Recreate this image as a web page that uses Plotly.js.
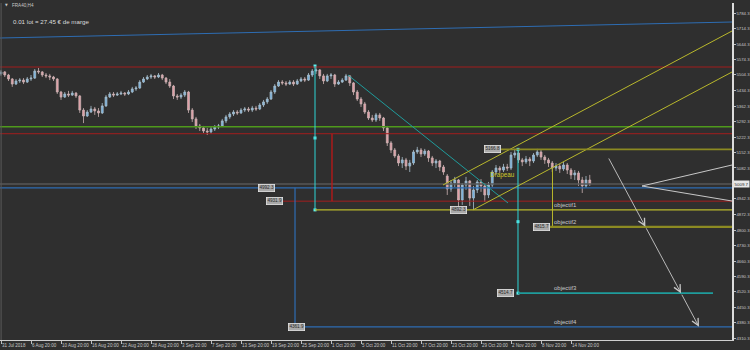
<!DOCTYPE html>
<html>
<head>
<meta charset="utf-8">
<script src="https://cdn.plot.ly/plotly-3.0.1.min.js"></script>
<style>html,body{margin:0;padding:0;background:#2f2f2f;}#chart{width:750px;height:350px;}</style>
</head>
<body>
<div id="chart"></div>
<script>
// ---- Candles (FRA40, H4) ----
const barOpen = [5509,5518,5504,5486,5463,5477,5481,5472,5486,5490,
5522,5518,5504,5500,5495,5486,5427,5404,5418,5413,
5422,5409,5345,5318,5336,5350,5341,5332,5364,5404,
5418,5413,5418,5422,5418,5427,5441,5445,5472,5486,
5495,5500,5495,5504,5490,5472,5454,5409,5404,5413,
5427,5345,5305,5273,5264,5250,5246,5259,5268,5273,
5296,5314,5327,5336,5332,5345,5350,5345,5354,5350,
5368,5382,5395,5427,5454,5472,5468,5463,5472,5463,
5477,5486,5481,5504,5522,5527,5500,5477,5500,5504,
5463,5472,5481,5500,5468,5427,5395,5373,5336,5309,
5300,5323,5309,5264,5196,5164,5137,5105,5119,5091,
5105,5155,5164,5146,5159,5128,5105,5114,5087,5046,
4987,5014,5028,4937,5005,5023,4946,4983,5019,5001,
4960,5005,5064,5082,5073,5087,5082,5141,5150,5119,
5110,5123,5114,5141,5155,5132,5119,5105,5082,5091,
5078,5096,5073,5051,5060,5028,5001,5028];
const barHigh = [5527,5522,5509,5490,5486,5490,5490,5495,5504,5531,
5536,5522,5513,5509,5500,5490,5432,5427,5432,5432,
5427,5413,5354,5345,5364,5359,5354,5377,5413,5427,
5427,5427,5432,5427,5436,5450,5454,5481,5495,5504,
5509,5504,5513,5509,5495,5486,5459,5418,5422,5436,
5432,5354,5314,5282,5273,5264,5268,5277,5282,5305,
5323,5336,5345,5345,5354,5359,5359,5364,5364,5377,
5391,5404,5436,5463,5481,5481,5477,5481,5481,5486,
5495,5495,5513,5531,5545,5531,5509,5509,5513,5509,
5481,5490,5509,5504,5472,5436,5404,5382,5345,5323,
5332,5332,5314,5273,5205,5173,5146,5132,5128,5119,
5164,5178,5173,5169,5164,5137,5123,5119,5096,5055,
5028,5042,5032,5014,5042,5028,5001,5028,5032,5014,
5019,5073,5096,5091,5101,5101,5155,5169,5159,5128,
5137,5132,5150,5169,5164,5141,5128,5114,5105,5101,
5110,5105,5082,5073,5069,5042,5046,5051];
const barLow = [5500,5495,5477,5450,5459,5468,5463,5468,5477,5486,
5509,5495,5490,5481,5477,5418,5391,5400,5404,5409,
5400,5332,5286,5314,5332,5323,5314,5327,5359,5400,
5404,5409,5413,5409,5413,5422,5432,5441,5468,5481,
5486,5486,5490,5481,5463,5445,5395,5391,5395,5404,
5332,5291,5259,5250,5241,5232,5237,5250,5259,5268,
5286,5305,5318,5323,5327,5336,5336,5336,5341,5345,
5359,5373,5391,5418,5450,5459,5454,5459,5454,5459,
5472,5472,5477,5495,5509,5486,5463,5472,5486,5450,
5459,5468,5477,5454,5413,5386,5359,5327,5300,5291,
5291,5296,5250,5182,5150,5128,5091,5082,5073,5064,
5096,5146,5132,5137,5110,5091,5082,5069,5051,4960,
4974,4996,4901,4915,4983,4910,4892,4969,4974,4928,
4946,4996,5051,5060,5064,5069,5073,5128,5105,5091,
5101,5091,5105,5132,5119,5101,5087,5064,5069,5060,
5069,5055,5032,5028,5001,4969,4992,5001];
const barClose = [5518,5504,5486,5463,5477,5481,5472,5486,5490,5522,
5518,5504,5500,5495,5486,5427,5404,5418,5413,5422,
5409,5345,5318,5336,5350,5341,5332,5364,5404,5418,
5413,5418,5422,5418,5427,5441,5445,5472,5486,5495,
5500,5495,5504,5490,5472,5454,5409,5404,5413,5427,
5345,5305,5273,5264,5250,5246,5259,5268,5273,5296,
5314,5327,5336,5332,5345,5350,5345,5354,5350,5368,
5382,5395,5427,5454,5472,5468,5463,5472,5463,5477,
5486,5481,5504,5522,5527,5500,5477,5500,5504,5463,
5472,5481,5500,5468,5427,5395,5373,5336,5309,5300,
5323,5309,5264,5196,5164,5137,5105,5119,5091,5105,
5155,5164,5146,5159,5128,5105,5114,5087,5064,4987,
5014,5028,4937,5005,5023,4946,4983,5019,5001,4960,
5005,5064,5082,5073,5087,5082,5141,5150,5119,5110,
5123,5114,5141,5155,5132,5119,5105,5082,5091,5078,
5096,5073,5051,5060,5028,5001,5028,5009.7];

// ---- Axes ----
const xTickBars = [0,8,16,24,32,40,48,56,64,72,80,88,96,104,112,120,128,136,144,152];
const xTickLabels = ["31 Jul 2018","6 Aug 20:00","10 Aug 20:00","16 Aug 20:00","22 Aug 20:00","28 Aug 20:00",
  "3 Sep 20:00","7 Sep 20:00","13 Sep 20:00","19 Sep 20:00","25 Sep 20:00","1 Oct 20:00","5 Oct 20:00",
  "11 Oct 20:00","17 Oct 20:00","23 Oct 20:00","29 Oct 20:00","2 Nov 20:00","8 Nov 20:00","14 Nov 20:00"];
const yTickValues = [5784.3,5714.3,5644.3,5574.3,5504.3,5434.3,5362.3,5292.3,5222.3,5152.3,5082.3,
  4942.3,4872.3,4800.3,4730.3,4660.3,4590.3,4520.3,4450.3,4380.3,4310.3];
const lastPrice = 5009.7;

// ---- Drawn objects (bar index, price) ----
const lineStartBar   = [-0.27, -0.27, -0.27, -0.27, -0.27, -0.27, 75.2, 88.26, 83.73, 83.73, 78.4, 81.06, 92.53, 117.86, 125.86, 133.33, 147.06, 146.4, 137.86, 137.86, 170.93, 170.93];
const lineStartPrice = [5671.8, 5540.3, 5269.6, 5237.8, 5009.7, 4992.3, 4931.9, 5237.8, 5544.8, 4892.3, 4992.3, 4361.9, 5504.0, 5005.2, 4892.3, 5166.8, 5080.0, 4815.7, 5166.8, 4514.7, 5000.6, 5000.6];
const lineEndBar     = [194.93, 194.93, 194.93, 194.93, 194.93, 194.93, 194.93, 88.26, 83.73, 194.93, 78.4, 194.93, 135.2, 194.93, 194.93, 194.93, 147.06, 194.93, 137.86, 189.86, 194.93, 194.93];
const lineEndPrice   = [5744.4, 5540.3, 5269.6, 5237.8, 5009.7, 4992.3, 4931.9, 4931.9, 4892.3, 4892.3, 4361.9, 4361.9, 4923.6, 5703.6, 5517.6, 5166.8, 4815.7, 4815.7, 4514.7, 4514.7, 5095.9, 4932.6];

const anchorBar   = [83.73, 83.73, 83.73, 137.86, 137.86, 137.86];
const anchorPrice = [5544.8, 5218.4, 4892.3, 5166.8, 4838.8, 4514.7];

const arrowBar   = [161.86, 171.84, 181.33, 186.13];
const arrowPrice = [5132.2, 4815.7, 4514.7, 4361.9];

const priceLabelBar   = [70.8, 72.8, 122.0, 131.1, 144.1, 134.4, 78.8];
const priceLabelPrice = [4992.3, 4931.9, 4892.3, 5166.8, 4815.7, 4514.7, 4361.9];

const objectiveNames  = ["objectif1","objectif2","objectif3","objectif4"];
const objectiveBar    = [146.9, 146.9, 146.9, 146.9];
const objectivePrice  = [4892.3, 4815.7, 4514.7, 4361.9];

const flagText = "Drapeau", flagBar = 129.9, flagPrice = 5050.6;

// ---- Styles ----
const BLUE = '#2e6db3', RED = '#a21d1d', RED2 = '#c01616', GREEN = '#4f9a1c', YEL = '#b9b82c', OLIVE = '#8c8a22',
      CYAN = '#2fd6d6', TEAL = '#1f9c9c', WHITE = '#c8c8c8', BIDGRAY = '#575757';
const lineStyles = [
  [BLUE,1],[RED,1],[GREEN,1.6],[RED,1],[BIDGRAY,1.6],[BLUE,1.2],[RED,1],[RED2,1.3],[CYAN,1],[YEL,1.2],
  [BLUE,1.2],[BLUE,1.2],[TEAL,1],[YEL,1],[YEL,1],[OLIVE,1.6],[YEL,1],[OLIVE,2.2],[CYAN,1],[TEAL,1.6],
  [WHITE,1],[WHITE,1]];
const FONT = 'Liberation Sans, Arial, sans-serif';
const TXT = '#c8c8c8';

const barIdx = barOpen.map((_, i) => i);

const traces = [
  {
    type: 'candlestick', x: barIdx, open: barOpen, high: barHigh, low: barLow, close: barClose,
    increasing: {line: {color: '#aabfcd', width: 0.8}, fillcolor: '#6fb0e2'},
    decreasing: {line: {color: '#ccb2b4', width: 0.8}, fillcolor: '#e59ca5'},
    hoverinfo: 'skip', showlegend: false
  },
  {
    type: 'scatter', mode: 'markers', x: anchorBar, y: anchorPrice,
    marker: {symbol: 'square', size: 3, color: '#5ff0f0'}, hoverinfo: 'skip', showlegend: false
  }
];

const shapes = lineStartBar.map((x0, i) => ({
  type: 'line', xref: 'x', yref: 'y', x0: x0, y0: lineStartPrice[i], x1: lineEndBar[i], y1: lineEndPrice[i],
  line: {color: lineStyles[i][0], width: lineStyles[i][1]}, layer: 'above'
}));

const annotations = [];
// arrow path with heads at each objective
for (let k = 1; k < arrowBar.length; k++) {
  annotations.push({
    x: arrowBar[k], y: arrowPrice[k], ax: arrowBar[k-1], ay: arrowPrice[k-1],
    xref: 'x', yref: 'y', axref: 'x', ayref: 'y', text: '', showarrow: true,
    arrowhead: 5, arrowsize: 1.5, arrowwidth: 0.9, arrowcolor: WHITE, standoff: 0, startstandoff: 0
  });
}
// price labels
priceLabelBar.forEach((b, i) => annotations.push({
  x: b, y: priceLabelPrice[i], xref: 'x', yref: 'y', text: priceLabelPrice[i].toFixed(1), showarrow: false,
  font: {family: FONT, size: 4.6, color: '#2a2a2a'}, bgcolor: '#a9a9a9', bordercolor: '#e6e6e6',
  borderwidth: 0.8, borderpad: 0.6, xanchor: 'center', yanchor: 'middle'
}));
// objective texts
objectiveNames.forEach((t, i) => annotations.push({
  x: objectiveBar[i], y: objectivePrice[i], xref: 'x', yref: 'y', text: t, showarrow: false,
  font: {family: FONT, size: 6, color: TXT}, xanchor: 'left', yanchor: 'bottom', yshift: 0
}));
// flag label
annotations.push({
  x: flagBar, y: flagPrice, xref: 'x', yref: 'y', text: flagText, showarrow: false,
  font: {family: FONT, size: 6.3, color: '#cfcd2a'}, xanchor: 'left', yanchor: 'middle'
});
// last price label on axis
annotations.push({
  x: 1, y: lastPrice, xref: 'paper', yref: 'y', text: lastPrice.toFixed(1), showarrow: false,
  font: {family: FONT, size: 4.4, color: '#2a2a2a'}, bgcolor: '#e8e8e8', borderpad: 0.6,
  xanchor: 'left', yanchor: 'middle', xshift: 1
});
// header texts
annotations.push({
  x: 0.004, y: 0.994, xref: 'paper', yref: 'paper', text: '▼', showarrow: false,
  font: {family: 'DejaVu Sans', size: 3.5, color: TXT}, xanchor: 'left', yanchor: 'middle'
});
annotations.push({
  x: 0.013, y: 0.994, xref: 'paper', yref: 'paper', text: 'FRA40,H4', showarrow: false,
  font: {family: FONT, size: 4.6, color: TXT}, xanchor: 'left', yanchor: 'middle'
});
annotations.push({
  x: 0.015, y: 0.944, xref: 'paper', yref: 'paper', text: '0.01 lot = 27.45 € de marge', showarrow: false,
  font: {family: FONT, size: 6.2, color: '#dcdcdc'}, xanchor: 'left', yanchor: 'middle'
});

const layout = {
  width: 750, height: 350,
  margin: {l: 0, r: 18, t: 3, b: 10, pad: 0},
  paper_bgcolor: '#2f2f2f', plot_bgcolor: '#2f2f2f',
  showlegend: false, hovermode: false, dragmode: false,
  font: {family: FONT, color: TXT},
  xaxis: {
    range: [-0.27, 194.93], rangeslider: {visible: false}, showgrid: false, zeroline: false,
    tickmode: 'array', tickvals: xTickBars, ticktext: xTickLabels, ticklabelposition: 'outside right',
    tickangle: 0, automargin: false,
    ticks: 'outside', ticklen: 3, tickwidth: 1, tickcolor: '#bdbdbd',
    tickfont: {family: FONT, size: 4.5, color: TXT},
    showline: true, linecolor: '#cfcfcf', linewidth: 1.2, fixedrange: true
  },
  yaxis: {
    range: [4302.2, 5830.6], side: 'right', showgrid: false, zeroline: false, automargin: false,
    tickmode: 'array', tickvals: yTickValues, ticktext: yTickValues.map(v => v.toFixed(1)),
    ticks: 'outside', ticklen: 2, tickwidth: 1, tickcolor: '#bdbdbd',
    tickfont: {family: FONT, size: 4.3, color: TXT},
    showline: true, linecolor: '#dcdcdc', linewidth: 1.6, fixedrange: true
  },
  shapes: shapes.concat([{
    type: 'line', xref: 'paper', yref: 'paper', x0: 0.0015, x1: 0.0015, y0: 0, y1: 1,
    line: {color: '#5a5a5a', width: 1}
  }]),
  annotations: annotations
};

Plotly.newPlot('chart', traces, layout, {staticPlot: true, displayModeBar: false});
</script>
</body>
</html>
